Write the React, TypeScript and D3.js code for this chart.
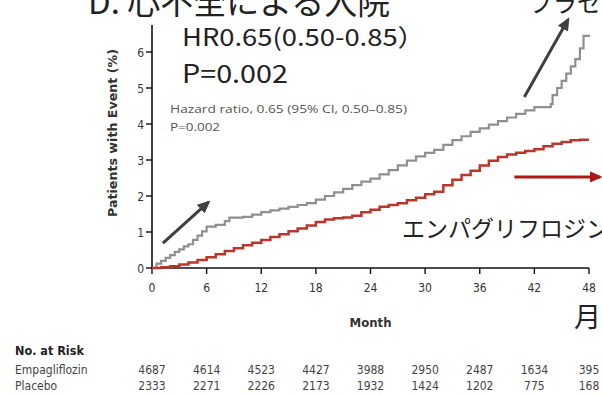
import * as d3 from "d3";

// Kaplan–Meier style cumulative incidence (%)
const placeboMonths = [0, 0.5, 1, 1.5, 2, 2.5, 3, 3.5, 4, 4.5, 5, 5.5, 6, 7, 8, 8.5, 10, 11, 12, 13, 14, 15, 16, 17, 18, 19, 20, 21, 22, 23, 24, 25, 26, 27, 28, 29, 30, 31, 32, 33, 34, 35, 36, 37, 38, 39, 40, 41, 42, 43.8, 44, 44.5, 45, 45.5, 46, 46.5, 47, 47.4, 48.1];
const placeboPct = [0, 0.12, 0.2, 0.28, 0.36, 0.45, 0.52, 0.6, 0.66, 0.78, 0.9, 1.02, 1.15, 1.2, 1.3, 1.4, 1.42, 1.48, 1.55, 1.6, 1.65, 1.7, 1.75, 1.8, 1.9, 2.0, 2.1, 2.2, 2.3, 2.4, 2.48, 2.6, 2.72, 2.85, 2.98, 3.1, 3.2, 3.28, 3.42, 3.55, 3.66, 3.78, 3.88, 3.98, 4.08, 4.18, 4.28, 4.38, 4.47, 4.55, 4.8, 5.0, 5.2, 5.4, 5.6, 5.8, 6.1, 6.45, 6.45];

const empaMonths = [0, 1, 2, 3, 4, 5, 6, 7, 8, 9, 10, 11, 12, 13, 14, 15, 16, 17, 18, 19, 20, 21, 22, 23, 24, 25, 26, 27, 28, 29, 30, 31, 32, 33, 34, 35, 36, 37, 38, 39, 40, 41, 42, 43, 44, 45, 46, 47, 48];
const empaPct = [0, 0.02, 0.05, 0.1, 0.15, 0.22, 0.3, 0.38, 0.47, 0.55, 0.63, 0.7, 0.78, 0.86, 0.94, 1.02, 1.1, 1.18, 1.28, 1.35, 1.38, 1.4, 1.45, 1.55, 1.62, 1.7, 1.75, 1.8, 1.88, 1.95, 2.05, 2.12, 2.3, 2.45, 2.58, 2.7, 2.85, 2.98, 3.08, 3.15, 3.2, 3.25, 3.3, 3.38, 3.45, 3.5, 3.55, 3.56, 3.56];

const xTicks = [0, 6, 12, 18, 24, 30, 36, 42, 48];
const yTicks = [0, 1, 2, 3, 4, 5, 6];

const riskGroups = ["Empagliflozin", "Placebo"];
const riskEmpa = [4687, 4614, 4523, 4427, 3988, 2950, 2487, 1634, 395];
const riskPlacebo = [2333, 2271, 2226, 2173, 1932, 1424, 1202, 775, 168];

// annotation arrows in data units [month, %]
const arrows = [
  { from: [1.2, 0.69], to: [6.2, 1.83], color: "#3f3f3f" },
  { from: [40.9, 4.75], to: [45.7, 6.9], color: "#3f3f3f" },
  { from: [39.8, 2.53], to: [49.2, 2.53], color: "#b01818" },
];

const W = 602;
const H = 395;
const narrow = "'Liberation Sans Narrow', 'DejaVu Sans Condensed', 'Open Sans', sans-serif";
const sans = "'Open Sans', 'Noto Sans', sans-serif";
const jp = "'Noto Sans CJK JP', 'Noto Sans', sans-serif";

export default function App() {
  const x = d3.scaleLinear().domain([0, 48]).range([152, 589]);
  const y = d3.scaleLinear().domain([0, 6]).range([268, 52]);

  const line = d3
    .line<[number, number]>()
    .x((d) => x(d[0]))
    .y((d) => y(d[1]))
    .curve(d3.curveStepAfter);

  const placebo = placeboMonths.map((m, i) => [m, placeboPct[i]] as [number, number]);
  const empa = empaMonths.map((m, i) => [m, empaPct[i]] as [number, number]);
  const riskRows = [riskEmpa, riskPlacebo];

  return (
    <div style={{ position: "absolute", left: 0, top: 0 }}>
      <svg width={W} height={H} style={{ display: "block", background: "#fff" }}>
        <defs>
          {arrows.map((a, i) => (
            <marker
              key={i}
              id={"ah" + i}
              markerUnits="userSpaceOnUse"
              markerWidth={13}
              markerHeight={13}
              viewBox="0 0 10 10"
              refX={8}
              refY={5}
              orient="auto"
            >
              <path d="M0,0.5 L10,5 L0,9.5 Z" fill={a.color} />
            </marker>
          ))}
        </defs>

        {/* title, cropped at the top like the slide */}
        <text x={88} y={14} fontFamily={jp} fontSize={33} fill="#222">
          D. 心不全による入院
        </text>
        <text x={529} y={12} fontFamily={jp} fontSize={24} fill="#222">
          プラセボ
        </text>

        {/* axes */}
        <line x1={x(0)} x2={x(0)} y1={y(0)} y2={y(6.75)} stroke="#111" strokeWidth={1.6} />
        <line x1={x(0)} x2={x(48)} y1={y(0)} y2={y(0)} stroke="#111" strokeWidth={1.6} />
        {yTicks.map((t) => (
          <g key={"y" + t}>
            <line x1={x(0) - 6} x2={x(0)} y1={y(t)} y2={y(t)} stroke="#111" strokeWidth={1.4} />
            <text x={x(0) - 8} y={y(t) + 4.5} textAnchor="end" fontFamily={narrow} fontSize={12} fill="#333">
              {t}
            </text>
          </g>
        ))}
        {xTicks.map((t) => (
          <g key={"x" + t}>
            <line x1={x(t)} x2={x(t)} y1={y(0)} y2={y(0) + 6} stroke="#111" strokeWidth={1.4} />
            <text x={x(t)} y={292} textAnchor="middle" fontFamily={narrow} fontSize={12} fill="#333">
              {t}
            </text>
          </g>
        ))}
        <text
          transform={`translate(117, 133) rotate(-90)`}
          textAnchor="middle"
          fontFamily={narrow}
          fontWeight="bold"
          fontSize={12.5}
          fill="#333"
          textLength={168}
          lengthAdjust="spacingAndGlyphs"
        >
          Patients with Event (%)
        </text>
        <text x={x(24)} y={327} textAnchor="middle" fontFamily={narrow} fontWeight="bold" fontSize={13} fill="#333">
          Month
        </text>
        <text x={574} y={327} fontFamily={jp} fontSize={27} fill="#222">
          月
        </text>

        {/* curves */}
        <path d={line(placebo) || ""} fill="none" stroke="#8f8f8f" strokeWidth={2.2} />
        <path d={line(empa) || ""} fill="none" stroke="#b8362a" strokeWidth={2.5} />

        {/* arrows */}
        {arrows.map((a, i) => (
          <line
            key={"a" + i}
            x1={x(a.from[0])}
            y1={y(a.from[1])}
            x2={x(a.to[0])}
            y2={y(a.to[1])}
            stroke={a.color}
            strokeWidth={3}
            markerEnd={`url(#ah${i})`}
          />
        ))}

        {/* annotations */}
        <text x={182} y={46} fontFamily={jp} fontSize={24} fill="#222" textLength={243} lengthAdjust="spacingAndGlyphs">
          HR0.65(0.50-0.85）
        </text>
        <text x={182} y={83} fontFamily={jp} fontSize={25} fill="#222" textLength={106} lengthAdjust="spacingAndGlyphs">
          P=0.002
        </text>
        <text x={170} y={113} fontFamily={sans} fontSize={11.5} fill="#555" textLength={237} lengthAdjust="spacingAndGlyphs">
          Hazard ratio, 0.65 (95% CI, 0.50–0.85)
        </text>
        <text x={170} y={131} fontFamily={sans} fontSize={11.5} fill="#555" textLength={50} lengthAdjust="spacingAndGlyphs">
          P=0.002
        </text>
        <text x={402} y={237} fontFamily={jp} fontSize={23} fill="#222">
          エンパグリフロジン
        </text>

        {/* number at risk */}
        <text x={15} y={355} fontFamily={narrow} fontWeight="bold" fontSize={12.5} fill="#222">
          No. at Risk
        </text>
        {riskGroups.map((g, r) => (
          <g key={g}>
            <text x={15} y={374 + r * 16} fontFamily={narrow} fontSize={12} fill="#444">
              {g}
            </text>
            {riskRows[r].map((v, i) => (
              <text
                key={i}
                x={x(xTicks[i])}
                y={374 + r * 16}
                textAnchor="middle"
                fontFamily={narrow}
                fontSize={12}
                fill="#444"
              >
                {v}
              </text>
            ))}
          </g>
        ))}
      </svg>
    </div>
  );
}
